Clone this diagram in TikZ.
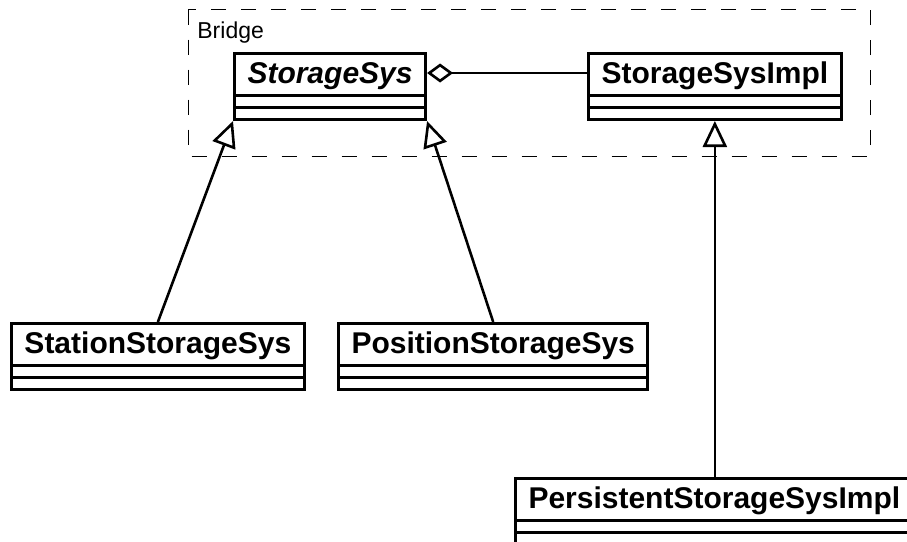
\documentclass[tikz,border=0pt]{standalone}
\usepackage{fontspec}
\setmainfont{Liberation Sans}
\usetikzlibrary{arrows.meta, shapes.multipart}

% Klassenname mit Strebe, danach zwei leere Abteile
\newcommand{\clsname}[1]{\rule[-4.5pt]{0pt}{17.5pt}#1%
    \nodepart{second}\rule{0pt}{2.5pt}\nodepart{third}\rule{0pt}{2.5pt}}

\begin{document}
\begin{tikzpicture}[x=0.5pt, y=-0.5pt,
    umlclass/.style={draw, line width=1.5pt, rectangle split, rectangle split parts=3,
        inner xsep=6.5pt, inner ysep=1pt, anchor=north west,
        font=\fontsize{15}{18}\selectfont\bfseries},
    inherit/.style={line width=1.3pt, -{Triangle[open, length=13pt, width=12pt]}},
    aggr/.style={line width=1.3pt, {Diamond[open, length=13pt, width=9.5pt]}-}]
    \useasboundingbox (0,0) rectangle (907,542);
    \clip (0,0) rectangle (907,542);

    % Paket
    \draw[line width=0.5pt, dash pattern=on 7.5pt off 7.5pt] (188,9.5) rectangle (870.5,156);
    \node[anchor=base west, inner sep=0pt, font=\fontsize{11.5}{14}\selectfont] (bridge) at (197,38) {Bridge};

    % Klassen
    \node[umlclass] (ssys) at (233,52) {\clsname{\textit{StorageSys}}};
    \node[umlclass] (impl) at (587,52) {\clsname{StorageSysImpl}};
    \node[umlclass] (station) at (10,322) {\clsname{StationStorageSys}};
    \node[umlclass] (position) at (337,322) {\clsname{PositionStorageSys}};
    \node[umlclass] (persist) at (514,477) {\clsname{PersistentStorageSysImpl}};

    % Beziehungen
    \draw[aggr] ([yshift=-10.5pt]ssys.north east) -- ([yshift=-10.5pt]impl.north west);
    \draw[inherit] (station.north) -- (ssys.south west);
    \draw[inherit] (position.north) -- (ssys.south east);
    \draw[inherit] (impl.south |- persist.north) -- (impl.south);
\end{tikzpicture}
\end{document}
